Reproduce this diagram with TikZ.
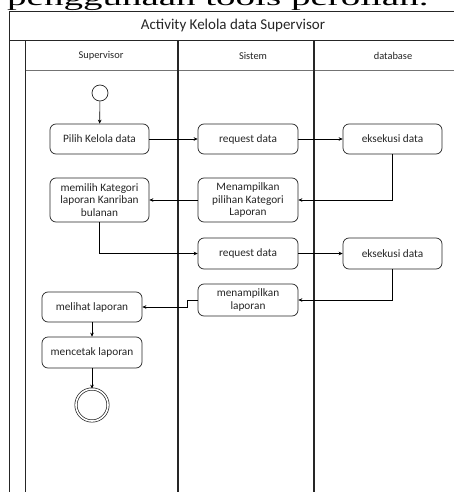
\documentclass[tikz,border=0pt]{standalone}
\usepackage{fontspec}
\setmainfont{Carlito}
\newfontfamily\serifhead{Liberation Serif}
\usetikzlibrary{arrows.meta,positioning}

\begin{document}
\begin{tikzpicture}[x=1pt,y=-1pt,
  lane/.style={draw=black!85,line width=0.9pt},
  act/.style={draw=black!85,line width=0.7pt,rounded corners=6pt,align=center,
    font=\fontsize{11.3}{12.6}\selectfont,text=black!85,minimum width=99pt,inner sep=1pt},
  flow/.style={draw=black,line width=0.6pt,-{Stealth[length=4pt,width=3.6pt]}},
  startnode/.style={circle,draw=black!85,line width=0.7pt,minimum size=16pt,inner sep=0pt},
  endnode/.style={circle,double,double distance=1.6pt,draw=black!85,line width=0.7pt,minimum size=32pt,inner sep=0pt},
  lanehead/.style={font=\fontsize{10.4}{12}\selectfont,text=black!85}
]
\useasboundingbox (0,0) rectangle (454,492);
\clip (0,0) rectangle (454,492);
\fill[white] (0,0) rectangle (454,492);

% heading of the surrounding page text, cut by the top edge
\node[anchor=base west,inner sep=0pt] (pagetext) at (7,5.5)
  {\scalebox{1}[0.6]{\serifhead\fontsize{39}{40}\selectfont penggunaan tools perolian.}};

% swimlane frame
\draw[lane] (9,11) rectangle (475,510);
\draw[lane] (9,40.5) -- (475,40.5);
\draw[lane] (25.5,40.5) -- (25.5,510);
\draw[draw=black!55,line width=1.5pt] (25.5,70.5) -- (475,70.5);
\draw[lane,line width=1.2pt] (178,40.5) -- (178,510);
\draw[lane,line width=1.2pt] (314,40.5) -- (314,510);

\node[font=\fontsize{15}{17}\selectfont,text=black!85] (title) at (233,25.5) {Activity Kelola data Supervisor};
\node[lanehead] (hsup) at (101,55.5) {Supervisor};
\node[lanehead] (hsis) at (253,55.5) {Sistem};
\node[lanehead] (hdb) at (393,55.5) {database};

% activities
\node[startnode] (start) at (100,93) {};
\node[act,minimum height=30pt] (pilih) at (99.5,139) {Pilih Kelola data};
\node[act,minimum height=30pt,minimum width=100pt] (req1) at (248,139) {request data};
\node[act,minimum height=30pt] (eks1) at (392.5,139) {eksekusi data};
\node[act,minimum height=44pt] (memilih) at (99.5,200) {memilih Kategori\\laporan Kanriban\\bulanan};
\node[act,minimum height=44pt,minimum width=100pt] (tampil1) at (248,200) {Menampilkan\\pilihan Kategori\\Laporan};
\node[act,minimum height=31pt,minimum width=100pt] (req2) at (248,253.5) {request data};
\node[act,minimum height=31pt] (eks2) at (392.5,253.5) {eksekusi data};
\node[act,minimum height=32pt,minimum width=100pt] (tampil2) at (248,300) {menampilkan\\laporan};
\node[act,minimum height=30pt,minimum width=100pt] (lihat) at (92,307) {melihat laporan};
\node[act,minimum height=31pt,minimum width=100pt] (cetak) at (92,352.5) {mencetak laporan};
\node[endnode] (stop) at (92,405) {};

% control flow
\draw[flow] (start) -- (pilih);
\draw[flow] (pilih) -- (req1);
\draw[flow] (req1) -- (eks1);
\draw[flow] (eks1.south) |- (tampil1.east);
\draw[flow] (tampil1) -- (memilih);
\draw[flow] (memilih.south) |- (req2.west);
\draw[flow] (req2) -- (eks2);
\draw[flow] (eks2.south) |- (tampil2.east);
\coordinate (bend) at (187,300);
\draw[flow] (tampil2.west) -- (bend) |- (lihat.east);
\draw[flow] (lihat) -- (cetak);
\draw[flow] (cetak) -- (stop);
\end{tikzpicture}
\end{document}
